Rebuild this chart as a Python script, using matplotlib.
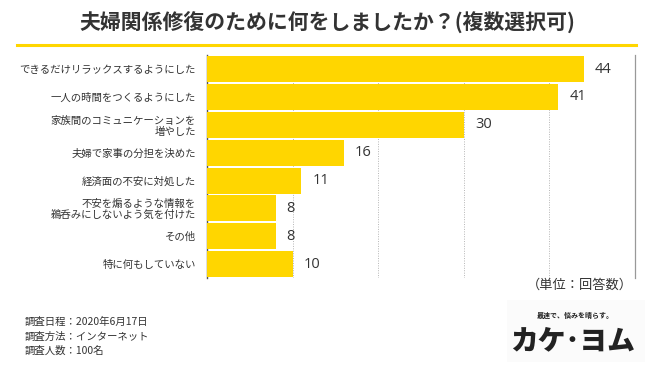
import matplotlib.pyplot as plt
from matplotlib.patches import Rectangle

plt.rcParams['font.family'] = ['Noto Sans CJK JP', 'DejaVu Sans']

# データ
labels = [
    'できるだけリラックスするようにした',
    '一人の時間をつくるようにした',
    '家族間のコミュニケーションを\n増やした',
    '夫婦で家事の分担を決めた',
    '経済面の不安に対処した',
    '不安を煽るような情報を\n鵜呑みにしないよう気を付けた',
    'その他',
    '特に何もしていない',
]
counts = [44, 41, 30, 16, 11, 8, 8, 10]
grid_ticks = [10, 20, 30, 40]
x_max = 50

title = '夫婦関係修復のために何をしましたか？(複数選択可)'
unit_note = '（単位：回答数）'
survey_notes = ['調査日程：2020年6月17日', '調査方法：インターネット', '調査人数：100名']

YELLOW = '#FFD600'
TEXT = '#333333'

fig = plt.figure(figsize=(6.5, 3.65), dpi=100)
ax = fig.add_axes([0.3185, 0.238, 0.6585, 0.611])

y = list(range(len(labels)))
ax.barh(y, counts, height=0.93, color=YELLOW, edgecolor='none', zorder=3)
for yi, v in zip(y, counts):
    ax.text(v + 1.3, yi, str(v), va='center', ha='left', fontsize=10.5,
            color=TEXT, family=['Open Sans', 'DejaVu Sans'])

ax.set_xlim(0, x_max)
ax.set_ylim(len(labels) - 0.5, -0.5)
ax.set_yticks(y)
ax.set_yticklabels(labels, fontsize=7.5, color=TEXT, linespacing=1.1)
ax.tick_params(axis='y', length=0, pad=8)
ax.set_xticks([])
for g in grid_ticks:
    ax.axvline(g, color='#b5b5b5', lw=0.7, ls=(0, (1, 1.5)), zorder=1)

for s in ['top', 'bottom']:
    ax.spines[s].set_visible(False)
ax.spines['left'].set_color('#555555')
ax.spines['left'].set_linewidth(1.0)
ax.spines['right'].set_color('#999999')
ax.spines['right'].set_linewidth(0.9)

# タイトル
fig.text(0.503, 0.937, title, ha='center', va='center', fontsize=15,
         fontweight='bold', color=TEXT)
fig.add_artist(plt.Line2D([17 / 650, 636 / 650], [1 - 45 / 365, 1 - 45 / 365],
                          color=YELLOW, lw=2.2, transform=fig.transFigure))

fig.text(633 / 650, 1 - 285 / 365, unit_note, ha='right', va='center',
         fontsize=9.5, color=TEXT)

for i, line in enumerate(survey_notes):
    fig.text(25 / 650, 1 - (322 + 14.5 * i) / 365, line, ha='left', va='center',
             fontsize=7.5, color=TEXT)

# ロゴ
fig.add_artist(Rectangle((507 / 650, 3 / 365), 138 / 650, 62 / 365,
                         transform=fig.transFigure, facecolor='#fbfbfb',
                         edgecolor='none'))
fig.text(575 / 650, 1 - 315 / 365, '最速で、悩みを晴らす。', ha='center',
         va='center', fontsize=5, fontweight='bold', color='#222222')
fig.text(573 / 650, 1 - 341 / 365, 'カケ･ヨム', ha='center', va='center',
         fontsize=20, fontweight='heavy', color='#222222')

fig.savefig('out.png', dpi=100)
